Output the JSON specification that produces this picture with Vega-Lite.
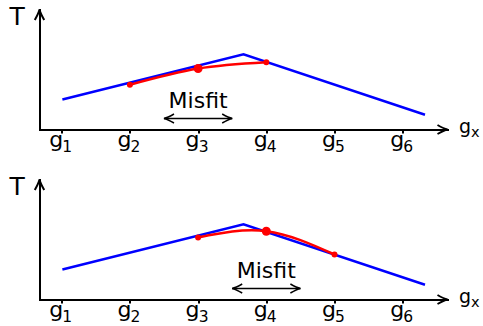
{
  "$schema": "https://vega.github.io/schema/vega-lite/v6.json",
  "autosize": {"type": "none"},
  "padding": {"left": 39.5, "top": 9.5, "right": 443.5, "bottom": 316.5},
  "background": "white",
  "spacing": 50,
  "bounds": "flush",
  "config": {
    "view": {"stroke": null},
    "font": "DejaVu Sans",
    "axis": {"grid": false, "domainColor": "black", "domainWidth": 2, "domainCap": "square", "labelColor": "black", "titleColor": "black", "titleFontWeight": "normal"}
  },
  "datasets": {
    "profile": [{"g": 1.01, "T": 30}, {"g": 3.666, "T": 75.3}, {"g": 6.327, "T": 14.7}],
    "fitTop": [{"g": 2, "T": 44.8, "role": "neighbour"}, {"g": 3, "T": 61, "role": "centre"}, {"g": 4, "T": 67.3, "role": "neighbour"}],
    "fitBottom": [{"g": 3, "T": 62, "role": "neighbour"}, {"g": 4, "T": 68.3, "role": "centre"}, {"g": 5, "T": 45, "role": "neighbour"}],
    "misfitTop": [{"g": 3, "T": 22, "label": "Misfit", "gFrom": 2.5, "gTo": 3.5, "TArrow": 11}],
    "misfitBottom": [{"g": 4, "T": 22, "label": "Misfit", "gFrom": 3.5, "gTo": 4.5, "TArrow": 11}],
    "axisEnds": [{"gMin": 0.6745, "gMax": 6.657, "TMin": 0, "TMax": 120, "xName": "g", "xSub": "x"}],
    "gridCells": [
      {"g": 1, "T": 0, "name": "g", "sub": "1"}, {"g": 2, "T": 0, "name": "g", "sub": "2"}, {"g": 3, "T": 0, "name": "g", "sub": "3"},
      {"g": 4, "T": 0, "name": "g", "sub": "4"}, {"g": 5, "T": 0, "name": "g", "sub": "5"}, {"g": 6, "T": 0, "name": "g", "sub": "6"}
    ]
  },
  "vconcat": [
    {
      "width": 408,
      "height": 120,
      "encoding": {
        "x": {"field": "g", "type": "quantitative", "title": null,
          "scale": {"domain": [0.6745, 6.657], "nice": false, "zero": false},
          "axis": {"values": [1, 2, 3, 4, 5, 6], "labels": false, "tickSize": 3.5, "tickWidth": 2, "tickColor": "black"}},
        "y": {"field": "T", "type": "quantitative", "title": "T",
          "scale": {"domain": [0, 120], "nice": false, "zero": false},
          "axis": {"ticks": false, "labels": false, "titleAngle": 0, "titleX": -22.8, "titleY": 14.5, "titleAlign": "center", "titleBaseline": "alphabetic", "titleFontSize": 25}}
      },
      "layer": [
        {"data": {"name": "profile"}, "mark": {"type": "line", "color": "#0000ff", "strokeWidth": 2.5}, "encoding": {}},
        {"data": {"name": "fitTop"}, "mark": {"type": "line", "color": "#ff0000", "strokeWidth": 2.5, "interpolate": "natural"}, "encoding": {}},
        {"data": {"name": "fitTop"}, "mark": {"type": "point", "shape": "circle", "filled": true, "color": "#ff0000", "opacity": 1},
          "encoding": {"size": {"field": "role", "type": "nominal", "scale": {"domain": ["neighbour", "centre"], "range": [36, 81]}, "legend": null}}},
        {"data": {"name": "misfitTop"}, "mark": {"type": "text", "fontSize": 22, "baseline": "alphabetic", "align": "center", "color": "black"},
          "encoding": {"text": {"field": "label"}}},
        {"data": {"name": "misfitTop"}, "mark": {"type": "rule", "color": "black", "strokeWidth": 1.6},
          "encoding": {"x": {"field": "gFrom", "type": "quantitative", "title": null}, "x2": {"field": "gTo"}, "y": {"field": "TArrow", "type": "quantitative", "title": "T"}}},
        {"data": {"name": "misfitTop"}, "mark": {"type": "point", "shape": "M 1 -0.45 Q 0.35 -0.08 0 0 Q 0.35 0.08 1 0.45", "filled": false, "color": "black", "strokeWidth": 1.5, "opacity": 1, "size": 400},
          "encoding": {"x": {"field": "gFrom", "type": "quantitative", "title": null}, "y": {"field": "TArrow", "type": "quantitative", "title": "T"}}},
        {"data": {"name": "misfitTop"}, "mark": {"type": "point", "shape": "M -1 -0.45 Q -0.35 -0.08 0 0 Q -0.35 0.08 -1 0.45", "filled": false, "color": "black", "strokeWidth": 1.5, "opacity": 1, "size": 400},
          "encoding": {"x": {"field": "gTo", "type": "quantitative", "title": null}, "y": {"field": "TArrow", "type": "quantitative", "title": "T"}}},
        {"data": {"name": "axisEnds"}, "mark": {"type": "point", "shape": "M -1 -0.45 Q -0.35 -0.08 0 0 Q -0.35 0.08 -1 0.45", "filled": false, "color": "black", "strokeWidth": 2, "opacity": 1, "size": 400},
          "encoding": {"x": {"field": "gMax", "type": "quantitative", "title": null}, "y": {"field": "TMin", "type": "quantitative", "title": "T"}}},
        {"data": {"name": "axisEnds"}, "mark": {"type": "point", "shape": "M -0.45 1 Q -0.08 0.35 0 0 Q 0.08 0.35 0.45 1", "filled": false, "color": "black", "strokeWidth": 2, "opacity": 1, "size": 440},
          "encoding": {"x": {"field": "gMin", "type": "quantitative", "title": null}, "y": {"field": "TMax", "type": "quantitative", "title": "T"}}},
        {"data": {"name": "axisEnds"}, "mark": {"type": "text", "fontSize": 19, "baseline": "alphabetic", "align": "left", "dx": 11.5, "dy": 3.2, "color": "black"},
          "encoding": {"x": {"field": "gMax", "type": "quantitative", "title": null}, "y": {"field": "TMin", "type": "quantitative", "title": "T"}, "text": {"field": "xName"}}},
        {"data": {"name": "axisEnds"}, "mark": {"type": "text", "fontSize": 14.5, "baseline": "alphabetic", "align": "left", "dx": 23.5, "dy": 7.8, "color": "black"},
          "encoding": {"x": {"field": "gMax", "type": "quantitative", "title": null}, "y": {"field": "TMin", "type": "quantitative", "title": "T"}, "text": {"field": "xSub"}}},
        {"data": {"name": "gridCells"}, "mark": {"type": "text", "fontSize": 22, "baseline": "alphabetic", "align": "center", "dx": -5.5, "dy": 17, "color": "black"},
          "encoding": {"text": {"field": "name"}}},
        {"data": {"name": "gridCells"}, "mark": {"type": "text", "fontSize": 15.5, "baseline": "alphabetic", "align": "center", "dx": 5.5, "dy": 22.2, "color": "black"},
          "encoding": {"text": {"field": "sub"}}}
      ]
    },
    {
      "width": 408,
      "height": 120,
      "encoding": {
        "x": {"field": "g", "type": "quantitative", "title": null,
          "scale": {"domain": [0.6745, 6.657], "nice": false, "zero": false},
          "axis": {"values": [1, 2, 3, 4, 5, 6], "labels": false, "tickSize": 3.5, "tickWidth": 2, "tickColor": "black"}},
        "y": {"field": "T", "type": "quantitative", "title": "T",
          "scale": {"domain": [0, 120], "nice": false, "zero": false},
          "axis": {"ticks": false, "labels": false, "titleAngle": 0, "titleX": -22.8, "titleY": 14.5, "titleAlign": "center", "titleBaseline": "alphabetic", "titleFontSize": 25}}
      },
      "layer": [
        {"data": {"name": "profile"}, "mark": {"type": "line", "color": "#0000ff", "strokeWidth": 2.5}, "encoding": {}},
        {"data": {"name": "fitBottom"}, "mark": {"type": "line", "color": "#ff0000", "strokeWidth": 2.5, "interpolate": "natural"}, "encoding": {}},
        {"data": {"name": "fitBottom"}, "mark": {"type": "point", "shape": "circle", "filled": true, "color": "#ff0000", "opacity": 1},
          "encoding": {"size": {"field": "role", "type": "nominal", "scale": {"domain": ["neighbour", "centre"], "range": [36, 81]}, "legend": null}}},
        {"data": {"name": "misfitBottom"}, "mark": {"type": "text", "fontSize": 22, "baseline": "alphabetic", "align": "center", "color": "black"},
          "encoding": {"text": {"field": "label"}}},
        {"data": {"name": "misfitBottom"}, "mark": {"type": "rule", "color": "black", "strokeWidth": 1.6},
          "encoding": {"x": {"field": "gFrom", "type": "quantitative", "title": null}, "x2": {"field": "gTo"}, "y": {"field": "TArrow", "type": "quantitative", "title": "T"}}},
        {"data": {"name": "misfitBottom"}, "mark": {"type": "point", "shape": "M 1 -0.45 Q 0.35 -0.08 0 0 Q 0.35 0.08 1 0.45", "filled": false, "color": "black", "strokeWidth": 1.5, "opacity": 1, "size": 400},
          "encoding": {"x": {"field": "gFrom", "type": "quantitative", "title": null}, "y": {"field": "TArrow", "type": "quantitative", "title": "T"}}},
        {"data": {"name": "misfitBottom"}, "mark": {"type": "point", "shape": "M -1 -0.45 Q -0.35 -0.08 0 0 Q -0.35 0.08 -1 0.45", "filled": false, "color": "black", "strokeWidth": 1.5, "opacity": 1, "size": 400},
          "encoding": {"x": {"field": "gTo", "type": "quantitative", "title": null}, "y": {"field": "TArrow", "type": "quantitative", "title": "T"}}},
        {"data": {"name": "axisEnds"}, "mark": {"type": "point", "shape": "M -1 -0.45 Q -0.35 -0.08 0 0 Q -0.35 0.08 -1 0.45", "filled": false, "color": "black", "strokeWidth": 2, "opacity": 1, "size": 400},
          "encoding": {"x": {"field": "gMax", "type": "quantitative", "title": null}, "y": {"field": "TMin", "type": "quantitative", "title": "T"}}},
        {"data": {"name": "axisEnds"}, "mark": {"type": "point", "shape": "M -0.45 1 Q -0.08 0.35 0 0 Q 0.08 0.35 0.45 1", "filled": false, "color": "black", "strokeWidth": 2, "opacity": 1, "size": 440},
          "encoding": {"x": {"field": "gMin", "type": "quantitative", "title": null}, "y": {"field": "TMax", "type": "quantitative", "title": "T"}}},
        {"data": {"name": "axisEnds"}, "mark": {"type": "text", "fontSize": 19, "baseline": "alphabetic", "align": "left", "dx": 11.5, "dy": 3.2, "color": "black"},
          "encoding": {"x": {"field": "gMax", "type": "quantitative", "title": null}, "y": {"field": "TMin", "type": "quantitative", "title": "T"}, "text": {"field": "xName"}}},
        {"data": {"name": "axisEnds"}, "mark": {"type": "text", "fontSize": 14.5, "baseline": "alphabetic", "align": "left", "dx": 23.5, "dy": 7.8, "color": "black"},
          "encoding": {"x": {"field": "gMax", "type": "quantitative", "title": null}, "y": {"field": "TMin", "type": "quantitative", "title": "T"}, "text": {"field": "xSub"}}},
        {"data": {"name": "gridCells"}, "mark": {"type": "text", "fontSize": 22, "baseline": "alphabetic", "align": "center", "dx": -5.5, "dy": 17, "color": "black"},
          "encoding": {"text": {"field": "name"}}},
        {"data": {"name": "gridCells"}, "mark": {"type": "text", "fontSize": 15.5, "baseline": "alphabetic", "align": "center", "dx": 5.5, "dy": 22.2, "color": "black"},
          "encoding": {"text": {"field": "sub"}}}
      ]
    }
  ]
}
